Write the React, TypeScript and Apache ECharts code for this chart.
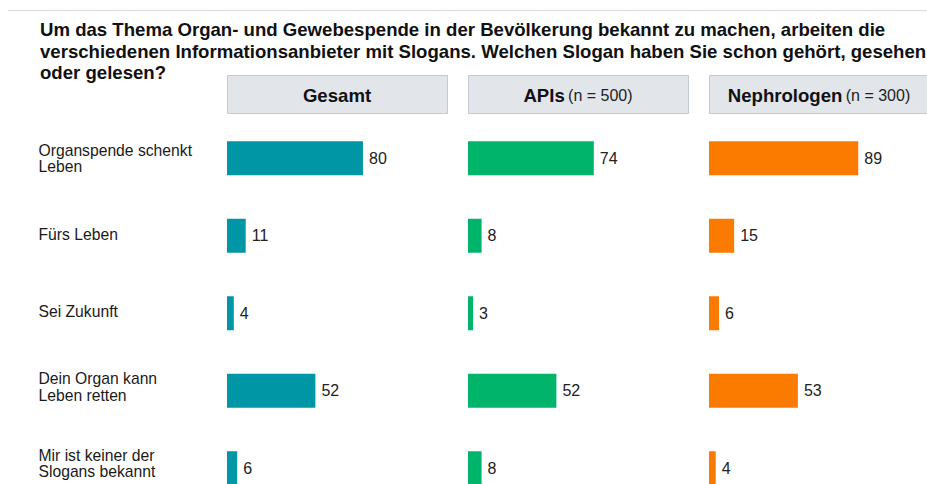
import React, { useEffect, useRef } from "react";
import * as echarts from "echarts";

const titleLines = [
  "Um das Thema Organ- und Gewebespende in der Bevölkerung bekannt zu machen, arbeiten die",
  "verschiedenen Informationsanbieter mit Slogans. Welchen Slogan haben Sie schon gehört, gesehen",
  "oder gelesen?",
];
const categories = [
  "Organspende schenkt\nLeben",
  "Fürs Leben",
  "Sei Zukunft",
  "Dein Organ kann\nLeben retten",
  "Mir ist keiner der\nSlogans bekannt",
];
const groupNames = ["Gesamt", "APIs", "Nephrologen"];
const groupNotes = ["", "(n = 500)", "(n = 300)"];
const gesamt = [80, 11, 4, 52, 6];
const apis = [74, 8, 3, 52, 8];
const nephrologen = [89, 15, 6, 53, 4];
const colors = ["#0096a6", "#00b46c", "#fb7b00"];

const FONT = "Liberation Sans, Arial, Helvetica, sans-serif";

export default function App() {
  const ref = useRef<HTMLDivElement>(null);
  useEffect(() => {
    if (!ref.current) return;
    const chart = echarts.init(ref.current, null, { renderer: "svg" });
    const seriesData = [gesamt, apis, nephrologen];
    const lefts = [227, 468, 709];
    const gridTop = 119.5;
    const gridH = 387.5;
    const grids: any[] = lefts.map((l) => ({ left: l, top: gridTop, width: 221, height: gridH }));
    // label-only grid (slightly tighter row spacing, like the reference)
    grids.push({ left: 227, top: 120.6, width: 221, height: 380.8 });
    const xAxes: any[] = lefts.map((_, i) => ({
      type: "value",
      gridIndex: i,
      min: 0,
      max: 130,
      show: false,
    }));
    xAxes.push({ type: "value", gridIndex: 3, min: 0, max: 130, show: false });
    const yAxes: any[] = lefts.map((_, i) => ({
      type: "category",
      gridIndex: i,
      data: categories,
      inverse: true,
      axisLine: { show: false },
      axisTick: { show: false },
      splitLine: { show: false },
      axisLabel: { show: false },
    }));
    yAxes.push({
      type: "category",
      gridIndex: 3,
      data: categories,
      inverse: true,
      axisLine: { show: false },
      axisTick: { show: false },
      splitLine: { show: false },
      axisLabel: {
        show: true,
        align: "left",
        margin: 188.5,
        fontFamily: FONT,
        fontSize: 15.7,
        lineHeight: 16.5,
        color: "#1a1a1a",
      },
    });
    const series = seriesData.map((d, i) => ({
      type: "bar",
      name: groupNames[i],
      xAxisIndex: i,
      yAxisIndex: i,
      data: d,
      barWidth: 34,
      itemStyle: { color: colors[i] },
      label: {
        show: true,
        position: "right",
        distance: 6,
        fontFamily: FONT,
        fontSize: 16,
        color: "#222",
      },
    }));
    const graphics: any[] = [
      {
        type: "line",
        shape: { x1: 8, y1: 10.5, x2: 927, y2: 10.5 },
        style: { stroke: "#dfe5e5", lineWidth: 1.5 },
      },
    ];
    lefts.forEach((l, i) => {
      graphics.push({
        type: "rect",
        shape: { x: l + 0.5, y: 75.5, width: 220, height: 38 },
        style: { fill: "#e2e6eb", stroke: "#c2cad2", lineWidth: 1 },
      });
      graphics.push({
        type: "text",
        x: l + 110,
        y: 95,
        style: {
          text: groupNotes[i]
            ? `{b|${groupNames[i]}} {n|${groupNotes[i]}}`
            : `{b|${groupNames[i]}}`,
          align: "center",
          verticalAlign: "middle",
          rich: {
            b: { fontFamily: FONT, fontSize: 18.6, fontWeight: "bold", fill: "#111" },
            n: { fontFamily: FONT, fontSize: 16, fill: "#222" },
          },
        },
      });
    });
    chart.setOption({
      animation: false,
      title: {
        text: titleLines.join("\n"),
        left: 40,
        top: 19,
        padding: 0,
        textStyle: {
          fontFamily: FONT,
          fontSize: 18.6,
          fontWeight: "bold",
          lineHeight: 21.5,
          color: "#111",
        },
      },
      grid: grids,
      xAxis: xAxes,
      yAxis: yAxes,
      series,
      graphic: graphics,
    });
    return () => chart.dispose();
  }, []);
  return (
    <div
      style={{ position: "absolute", left: 0, top: 0, width: 927, height: 484, overflow: "hidden" }}
    >
      <div ref={ref} style={{ width: 927, height: 520 }} />
    </div>
  );
}
